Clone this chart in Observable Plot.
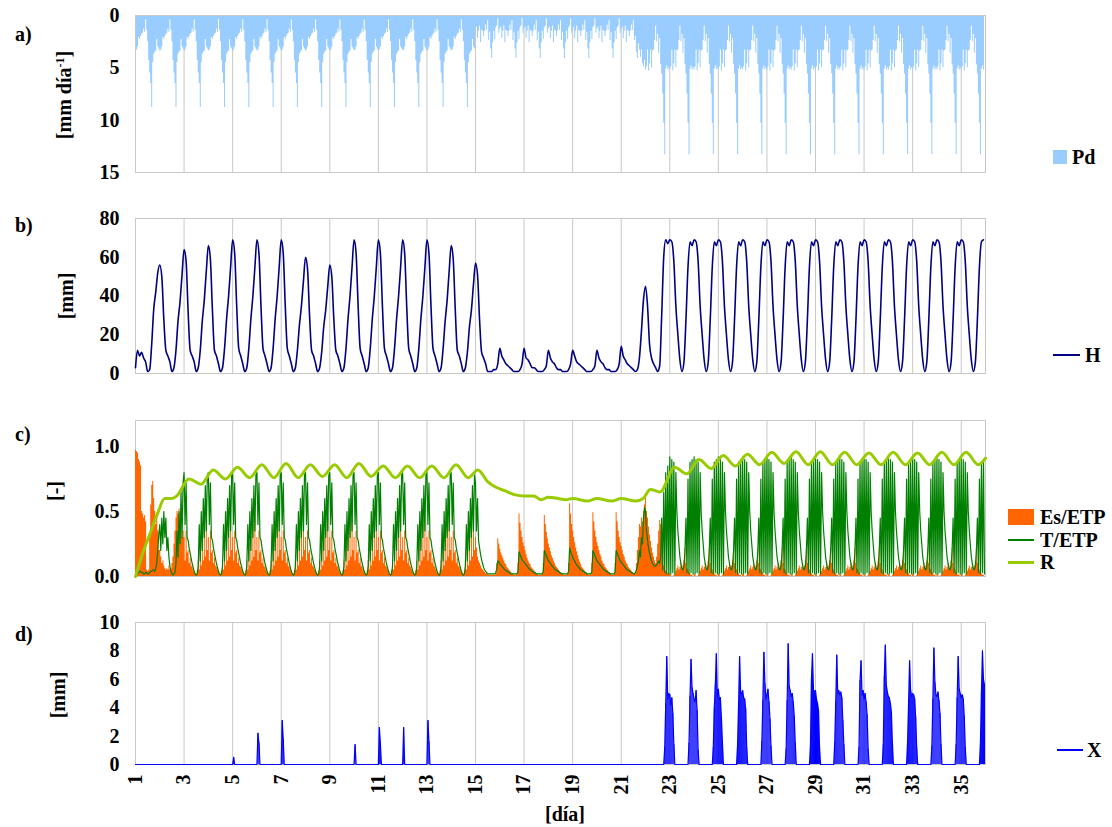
<!DOCTYPE html>
<html><head><meta charset="utf-8">
<script src="https://cdn.jsdelivr.net/npm/d3@7"></script>
<script src="https://cdn.jsdelivr.net/npm/@observablehq/plot@0.6"></script>
<style>
body{margin:0;background:#fff;font-family:"Liberation Serif","DejaVu Serif",serif;font-weight:bold;color:#000;}
#wrap{position:relative;width:1112px;height:827px;overflow:hidden;}
.panel{position:absolute;left:0;}
.lbl{position:absolute;font-family:"Liberation Serif","DejaVu Serif",serif;font-size:20px;font-weight:bold;white-space:nowrap;line-height:1;}
.ylab{transform:translate(-50%,-50%) rotate(-90deg);}
.vc{transform:translateY(-50%);}
.sw{position:absolute;}
</style></head>
<body><div id="wrap"></div>
<script>
// ---------------- DATA ----------------
const xTicks = [1,3,5,7,9,11,13,15,17,19,21,23,25,27,29,31,33,35];
const aTicks = [0,5,10,15];
const bTicks = [0,20,40,60,80];
const cTicks = [0,0.5,1.0];
const dTicks = [0,2,4,6,8,10];

// Pd: daily rainfall profiles (24 samples per year)
const pdEarly  = [3.4,3.3,3.0,2.1,2.3,2.0,1.8,1.7,1.3,1.6,0.4,1.4,2.5,4.3,5.5,6.5,8.8,4.5,3.7,3.5,3.4,2.3,3.0,3.2];
const pdMiddle = [1.3,1.1,2.2,1.5,1.0,2.6,1.4,1.5,2.0,1.5,0.9,1.4,0.5,2.4,1.6,3.2,4.1,2.6,1.5,2.3,1.2,1.0,0.3,1.7];
const pd21     = [1.3,1.1,2.2,1.5,1.0,2.6,1.4,1.5,2.0,1.5,0.9,1.4,0.5,2.4,2.0,3.5,4.1,2.7,3.3,4.0,3.3,4.6,4.9,4.3];
const pdLate   = [5.2,4.9,3.3,5.3,4.6,3.3,5.0,3.4,3.3,2.4,1.0,2.5,1.8,3.6,2.2,4.7,5.6,7.5,10.3,13.3,5.1,4.8,5.2,5.0];

// H: soil water storage (12 samples per year), one row per year 1..35
const hRows = [
[3,12,9,11,8,6,1,2,15,33,42,52],
[56,50,28,12,9,6,1,3,12,27,37,51],
[64,58,32,12,9,6,1,3,12,27,38,53],
[66,59,33,12,9,5,1,3,13,28,40,55],
[69,62,35,13,9,5,1,3,13,28,40,55],
[69,62,35,13,9,5,1,3,13,28,40,55],
[69,62,35,13,9,5,1,3,12,25,35,48],
[60,54,30,12,9,5,1,3,11,24,33,45],
[56,50,28,12,9,5,1,3,13,28,40,55],
[69,62,35,13,9,5,1,3,13,28,40,55],
[69,62,35,13,9,5,1,3,13,28,40,55],
[69,62,35,13,9,5,1,3,13,28,40,55],
[69,62,35,13,9,5,1,3,13,27,38,53],
[66,59,33,12,9,5,1,3,11,24,33,46],
[57,51,28,11,8,5,1,1,1,2,2,5],
[13,9,7,5,4,3,2,1,1,1,2,5],
[13,8,7,5,3,3,2,1,1,1,2,4],
[12,8,6,5,3,2,2,1,1,1,2,5],
[12,9,6,5,4,3,2,1,1,1,2,4],
[12,8,6,5,3,2,2,1,1,1,2,5],
[14,9,7,5,4,3,2,1,2,8,22,38],
[45,35,15,8,5,3,1,4,30,60,69,67],
[69,68,58,35,20,7,1,6,28,55,68,66],
[69,68,58,35,20,7,1,6,28,55,68,66],
[69,68,58,35,20,7,1,6,28,55,68,66],
[69,68,58,35,20,7,1,6,28,55,68,66],
[69,68,58,35,20,7,1,6,28,55,68,66],
[69,68,58,35,20,7,1,6,28,55,68,66],
[69,68,58,35,20,7,1,6,28,55,68,66],
[69,68,58,35,20,7,1,6,28,55,68,66],
[69,68,58,35,20,7,1,6,28,55,68,66],
[69,68,58,35,20,7,1,6,28,55,68,66],
[69,68,58,35,20,7,1,6,28,55,68,66],
[69,68,58,35,20,7,1,6,28,55,68,66],
[69,68,58,35,20,7,1,6,28,55,68,69]
];

// Es/ETP (24 samples per year)
const esY1    = [0.97,0.96,0.95,0.9,0.88,0.85,0.5,0.48,0.45,0.47,0.42,0.05,0.04,0.05,0.3,0.55,0.7,0.73,0.6,0.5,0.4,0.45,0.35,0.2];
const esY2    = [0.2,0.15,0.1,0.12,0.08,0.06,0.05,0.06,0.05,0.08,0.05,0.06,0.1,0.15,0.25,0.35,0.45,0.5,0.48,0.52,0.4,0.45,0.3,0.35];
const esEarly = [0.3,0.12,0.35,0.18,0.2,0.1,0.14,0.08,0.07,0.05,0.03,0.02,0.01,0.04,0.12,0.05,0.25,0.08,0.3,0.12,0.4,0.15,0.45,0.2];
const esM15 = [0.3,0.22,0.15,0.12,0.1,0.08,0.06,0.05,0.04,0.03,0.02,0.02,0.01,0.01,0.01,0.01,0.01,0.01,0.01,0.01,0.02,0.1,0.29,0.25];
const esM16 = [0.21,0.18,0.16,0.14,0.12,0.1,0.09,0.07,0.06,0.05,0.04,0.03,0.02,0.02,0.01,0.01,0.01,0.02,0.1,0.48,0.41,0.35,0.3,0.26];
const esM17 = [0.23,0.2,0.17,0.14,0.12,0.1,0.09,0.07,0.06,0.05,0.04,0.03,0.02,0.02,0.01,0.01,0.01,0.01,0.02,0.1,0.47,0.4,0.34,0.29];
const esM18 = [0.25,0.22,0.19,0.16,0.14,0.12,0.1,0.08,0.07,0.06,0.05,0.04,0.03,0.02,0.02,0.01,0.01,0.01,0.01,0.02,0.1,0.56,0.48,0.4];
const esM19 = [0.35,0.3,0.26,0.22,0.19,0.16,0.13,0.11,0.09,0.07,0.06,0.05,0.04,0.03,0.02,0.02,0.01,0.01,0.02,0.1,0.49,0.42,0.35,0.3];
const esM20 = [0.26,0.23,0.2,0.17,0.15,0.12,0.1,0.09,0.07,0.06,0.05,0.04,0.03,0.02,0.02,0.01,0.01,0.02,0.1,0.49,0.42,0.35,0.3,0.26];
const esM21 = [0.23,0.2,0.17,0.15,0.12,0.1,0.09,0.07,0.06,0.05,0.04,0.03,0.02,0.02,0.03,0.1,0.2,0.3,0.4,0.38,0.45,0.42,0.5,0.55];
const esM22 = [0.6,0.5,0.45,0.38,0.32,0.27,0.22,0.18,0.15,0.12,0.1,0.15,0.25,0.35,0.43,0.4,0.3,0.15,0.08,0.05,0.04,0.03,0.02,0.02];
const esLate = [0.02,0.01,0.0,0.0,0.01,0.02,0.04,0.06,0.08,0.05,0.07,0.1,0.06,0.08,0.12,0.22,0.1,0.06,0.05,0.03,0.02,0.01,0.01,0.0];

// T/ETP (24 samples per year)
const tY1    = [0.0,0.01,0.02,0.03,0.04,0.04,0.03,0.03,0.02,0.02,0.03,0.03,0.02,0.02,0.03,0.04,0.04,0.05,0.05,0.04,0.06,0.1,0.2,0.32];
const tY2    = [0.4,0.2,0.45,0.25,0.5,0.3,0.45,0.2,0.3,0.15,0.08,0.04,0.02,0.01,0.02,0.03,0.1,0.35,0.15,0.5,0.25,0.65,0.3,0.72];
const tEarly = [0.8,0.4,0.72,0.3,0.28,0.22,0.18,0.14,0.1,0.07,0.04,0.02,0.01,0.02,0.08,0.4,0.12,0.5,0.2,0.6,0.3,0.7,0.35,0.78];
const tM15 = [0.72,0.35,0.6,0.28,0.22,0.17,0.13,0.1,0.07,0.05,0.04,0.03,0.02,0.02,0.02,0.02,0.02,0.02,0.02,0.02,0.03,0.06,0.12,0.11];
const tM16 = [0.1,0.09,0.08,0.07,0.06,0.05,0.05,0.04,0.04,0.03,0.03,0.02,0.02,0.02,0.02,0.02,0.02,0.02,0.04,0.19,0.17,0.15,0.13,0.12];
const tM17 = [0.11,0.1,0.09,0.08,0.07,0.06,0.05,0.05,0.04,0.04,0.03,0.03,0.02,0.02,0.02,0.02,0.02,0.02,0.02,0.04,0.2,0.18,0.16,0.14];
const tM18 = [0.12,0.11,0.1,0.09,0.08,0.07,0.06,0.05,0.05,0.04,0.04,0.03,0.03,0.02,0.02,0.02,0.02,0.02,0.02,0.02,0.04,0.22,0.19,0.17];
const tM19 = [0.15,0.13,0.12,0.1,0.09,0.08,0.07,0.06,0.05,0.05,0.04,0.04,0.03,0.03,0.02,0.02,0.02,0.02,0.02,0.04,0.2,0.18,0.16,0.14];
const tM20 = [0.12,0.11,0.1,0.09,0.08,0.07,0.06,0.05,0.05,0.04,0.04,0.03,0.03,0.02,0.02,0.02,0.02,0.02,0.04,0.2,0.18,0.16,0.14,0.12];
const tM21 = [0.11,0.1,0.09,0.08,0.07,0.06,0.05,0.05,0.04,0.04,0.03,0.03,0.02,0.02,0.03,0.05,0.08,0.12,0.2,0.15,0.3,0.25,0.45,0.53];
const tM22 = [0.5,0.35,0.28,0.22,0.18,0.15,0.12,0.1,0.09,0.08,0.08,0.09,0.1,0.12,0.1,0.15,0.45,0.05,0.65,0.03,0.8,0.02,0.85,0.02];
const tLate = [0.92,0.02,0.9,0.03,0.88,0.02,0.8,0.5,0.35,0.25,0.15,0.1,0.06,0.05,0.08,0.2,0.45,0.03,0.75,0.02,0.88,0.03,0.9,0.02];

// R: key points (time, value)
const rTime = [1.0,1.3,1.6,1.9,2.2,2.5,2.7,3.2,3.7,4.2,4.7,5.2,5.7,6.2,6.7,7.2,7.7,8.2,8.7,9.2,9.7,10.2,10.7,11.2,11.7,12.2,12.7,13.2,13.7,14.2,14.7,15.1,15.5,15.8,16.2,16.6,17.0,17.4,17.7,18.0,18.4,18.7,19.0,19.6,20.0,20.6,21.0,21.6,21.9,22.2,22.6,23.2,23.7,24.2,24.7,25.2,25.7,26.2,26.7,27.2,27.7,28.2,28.7,29.2,29.7,30.2,30.7,31.2,31.7,32.2,32.7,33.2,33.7,34.2,34.7,35.2,35.7,36.0];
const rValue = [0.0,0.18,0.33,0.48,0.6,0.6,0.62,0.75,0.71,0.82,0.75,0.84,0.76,0.86,0.76,0.87,0.76,0.86,0.77,0.86,0.76,0.87,0.77,0.85,0.76,0.85,0.76,0.85,0.76,0.86,0.76,0.82,0.73,0.69,0.66,0.63,0.62,0.62,0.59,0.61,0.6,0.59,0.6,0.58,0.6,0.58,0.6,0.58,0.6,0.67,0.65,0.84,0.79,0.9,0.83,0.93,0.85,0.94,0.86,0.955,0.87,0.96,0.86,0.96,0.86,0.955,0.86,0.95,0.86,0.955,0.86,0.95,0.86,0.955,0.86,0.955,0.86,0.91];

// X: drainage (24 samples per year)
const xZero = [0,0,0,0,0,0,0,0,0,0,0,0,0,0,0,0,0,0,0,0,0,0,0,0];
const xY5  = [0,0.5,0,0,0,0,0,0,0,0,0,0,0,0,0,0,0,0,0,0,0,0,0,0];
const xY6  = [0,2.2,1.5,0,0,0,0,0,0,0,0,0,0,0,0,0,0,0,0,0,0,0,0,0];
const xY7  = [0,3.1,1.8,0,0,0,0,0,0,0,0,0,0,0,0,0,0,0,0,0,0,0,0,0];
const xY10 = [0,1.4,0,0,0,0,0,0,0,0,0,0,0,0,0,0,0,0,0,0,0,0,0,0];
const xY11 = [0,2.6,1.5,0,0,0,0,0,0,0,0,0,0,0,0,0,0,0,0,0,0,0,0,0];
const xY12 = [0,2.6,0,0,0,0,0,0,0,0,0,0,0,0,0,0,0,0,0,0,0,0,0,0];
const xY13 = [0,3.1,1.6,0,0,0,0,0,0,0,0,0,0,0,0,0,0,0,0,0,0,0,0,0];
const xY22 = [0,0,0,0,0,0,0,0,0,0,0,0,0,0,0,0,0,0,0,1.2,4.3,7.6,4.6,5.0];
const xY23 = [4.9,4.2,4.7,3.6,1.4,0,0,0,0,0,0,0,0,0,0,0,0,0,0,1.5,4.8,7.4,5.4,5.0];
const xY24 = [4.6,4.4,5.2,3.8,1.0,0,0,0,0,0,0,0,0,0,0,0,0,0,0,1.2,4.0,5.6,7.8,4.8];
const xY25 = [5.3,4.6,4.7,3.3,1.6,0,0,0,0,0,0,0,0,0,0,0,0,0,0,1.4,4.3,7.6,5.1,5.0];
const xY26 = [5.2,4.7,4.6,3.9,1.2,0,0,0,0,0,0,0,0,0,0,0,0,0,0,1.6,4.5,7.9,5.7,4.6];
const xY27 = [4.9,5.3,4.4,3.2,1.3,0,0,0,0,0,0,0,0,0,0,0,0,0,0,1.1,4.5,8.5,5.5,5.2];
const xY28 = [4.8,5.0,4.4,3.4,1.5,0,0,0,0,0,0,0,0,0,0,0,0,0,0,1.3,6.0,7.8,5.3,5.1];
const xY29 = [5.2,4.6,4.3,3.8,1.2,0,0,0,0,0,0,0,0,0,0,0,0,0,0,1.5,4.4,7.7,5.0,5.2];
const xY30 = [4.9,5.1,4.7,3.1,1.4,0,0,0,0,0,0,0,0,0,0,0,0,0,0,1.2,5.9,7.3,4.9,5.2];
const xY31 = [4.6,5.0,4.4,3.5,1.1,0,0,0,0,0,0,0,0,0,0,0,0,0,0,1.4,6.2,8.4,5.6,5.1];
const xY32 = [4.8,4.7,4.3,3.7,1.5,0,0,0,0,0,0,0,0,0,0,0,0,0,0,1.6,4.4,7.3,5.2,4.8];
const xY33 = [5.0,4.9,4.6,3.3,1.2,0,0,0,0,0,0,0,0,0,0,0,0,0,0,1.3,4.6,8.2,5.8,4.9];
const xY34 = [4.8,5.1,4.5,3.6,1.4,0,0,0,0,0,0,0,0,0,0,0,0,0,0,1.4,4.7,7.6,5.3,5.0];
const xY35 = [4.7,4.9,4.6,3.4,1.2,0,0,0,0,0,0,0,0,0,0,0,0,0,0,1.5,5.1,8.0,6.0,5.6];

// year -> row tables
const rep = (a, n) => Array.from({length: n}, () => a);
const pdRows = [...rep(pdEarly,14), ...rep(pdMiddle,6), pd21, ...rep(pdLate,14)];
const esRows = [esY1, esY2, ...rep(esEarly,12), esM15, esM16, esM17, esM18, esM19, esM20, esM21, esM22, ...rep(esLate,13)];
const tRows  = [tY1, tY2, ...rep(tEarly,12), tM15, tM16, tM17, tM18, tM19, tM20, tM21, tM22, ...rep(tLate,13)];
const xRows  = [...rep(xZero,4), xY5, xY6, xY7, xZero, xZero, xY10, xY11, xY12, xY13, ...rep(xZero,8),
                xY22, xY23, xY24, xY25, xY26, xY27, xY28, xY29, xY30, xY31, xY32, xY33, xY34, xY35];

const toSeries = rows => rows.flatMap((row, r) => row.map((v, i) => ({t: 1 + r + i / row.length, v})));
const pdData = toSeries(pdRows);
const hData  = toSeries(hRows);
const esData = toSeries(esRows);
const tData  = toSeries(tRows);
const xData  = toSeries(xRows);
const rData  = rTime.map((t, i) => ({t, v: rValue[i]}));

// ---------------- CHART ----------------
const W = 1112, ML = 135, MR = 127;
const FONT = '"Liberation Serif","DejaVu Serif",serif';
const baseStyle = {fontFamily: FONT, fontSize: "20px", fontWeight: "bold", color: "#000", background: "transparent", overflow: "visible"};
const GRID = "#c8c8c8";
const xScale = {domain: [1, 36]};
const wrap = document.getElementById("wrap");

function place(svg, top) {
  const d = document.createElement("div");
  d.className = "panel"; d.style.top = top + "px";
  d.appendChild(svg); wrap.appendChild(d);
}

// a) Pd
place(Plot.plot({
  width: W, height: 186, marginLeft: ML, marginRight: MR, marginTop: 15, marginBottom: 14,
  style: baseStyle, x: xScale,
  y: {domain: [0, 15], reverse: true},
  marks: [
    Plot.gridX(xTicks, {stroke: GRID, strokeOpacity: 1}),
    Plot.areaY(pdData, {x: "t", y: "v", curve: "step-after", fill: "#99ccff"}),
    Plot.frame({stroke: GRID}),
    Plot.axisY(aTicks, {tickSize: 0, tickPadding: 16, label: null, fontSize: 20}),
    Plot.axisX([], {label: null})
  ]
}), 0);

// b) H
place(Plot.plot({
  width: W, height: 187, marginLeft: ML, marginRight: MR, marginTop: 18, marginBottom: 14,
  style: baseStyle, x: xScale,
  y: {domain: [0, 80]},
  marks: [
    Plot.gridX(xTicks, {stroke: GRID, strokeOpacity: 1}),
    Plot.frame({stroke: GRID}),
    Plot.lineY(hData, {x: "t", y: "v", stroke: "#000080", strokeWidth: 1.6, curve: "monotone-x"}),
    Plot.axisY(bTicks, {tickSize: 0, tickPadding: 16, label: null, fontSize: 20}),
    Plot.axisX([], {label: null})
  ]
}), 200);

// c) Es/ETP, T/ETP, R
place(Plot.plot({
  width: W, height: 190, marginLeft: ML, marginRight: MR, marginTop: 20, marginBottom: 14,
  style: baseStyle, x: xScale,
  y: {domain: [0, 1.2]},
  marks: [
    Plot.gridX(xTicks, {stroke: GRID, strokeOpacity: 1}),
    Plot.frame({stroke: GRID}),
    Plot.areaY(esData, {x: "t", y: "v", curve: "step-after", fill: "#ff6600"}),
    Plot.lineY(tData, {x: "t", y: "v", stroke: "#008000", strokeWidth: 1.2}),
    Plot.lineY(rData, {x: "t", y: "v", stroke: "#99cc00", strokeWidth: 3, curve: "monotone-x"}),
    Plot.axisY(cTicks, {tickSize: 0, tickPadding: 16, label: null, tickFormat: d3.format(".1f"), fontSize: 20}),
    Plot.axisX([], {label: null})
  ]
}), 400);

// d) X
place(Plot.plot({
  width: W, height: 221, marginLeft: ML, marginRight: MR, marginTop: 17, marginBottom: 62,
  style: baseStyle, x: xScale,
  y: {domain: [0, 10]},
  marks: [
    Plot.gridX(xTicks, {stroke: GRID, strokeOpacity: 1}),
    Plot.frame({stroke: GRID}),
    Plot.ruleX(xData.filter(d => d.v > 0), {x: "t", y1: 0, y2: "v", stroke: "#0000ff", strokeWidth: 1}),
    Plot.lineY(xData, {x: "t", y: "v", stroke: "#0000ff", strokeWidth: 1.2}),
    Plot.axisY(dTicks, {tickSize: 0, tickPadding: 16, label: null, fontSize: 20}),
    Plot.axisX(xTicks, {tickSize: 0, tickPadding: 10, tickRotate: -90, label: null, fontSize: 20})
  ]
}), 605);

// ---------------- TEXT & LEGENDS ----------------
function txt(html, left, top, cls) {
  const d = document.createElement("div");
  d.className = "lbl " + (cls || "");
  d.style.left = left + "px"; d.style.top = top + "px";
  d.innerHTML = html; wrap.appendChild(d); return d;
}
function box(left, top, w, h, color) {
  const d = document.createElement("div");
  d.className = "sw";
  Object.assign(d.style, {left: left + "px", top: top + "px", width: w + "px", height: h + "px", background: color});
  wrap.appendChild(d);
}
// panel letters
txt("a)", 15, 24); txt("b)", 15, 215); txt("c)", 15, 424); txt("d)", 15, 624);
// y labels
txt("[mm día<sup style='font-size:12px'>-1</sup>]", 64, 95, "ylab");
txt("[mm]", 66, 296, "ylab");
txt("[-]", 55, 491, "ylab");
txt("[mm]", 58, 695, "ylab");
// x label
txt("[día]", 545, 804);
// legends
box(1053, 150, 14, 14, "#99ccff"); txt("Pd", 1072, 157, "vc");
box(1053, 354, 27, 2, "#000080"); txt("H", 1085, 355, "vc");
box(1008, 509, 26, 16, "#ff6600"); txt("Es/ETP", 1040, 517, "vc");
box(1008, 539, 26, 2, "#008000"); txt("T/ETP", 1040, 540, "vc");
box(1008, 561, 26, 3, "#99cc00"); txt("R", 1040, 562, "vc");
box(1057, 749, 26, 2, "#0000ff"); txt("X", 1087, 750, "vc");
</script>
</body></html>
